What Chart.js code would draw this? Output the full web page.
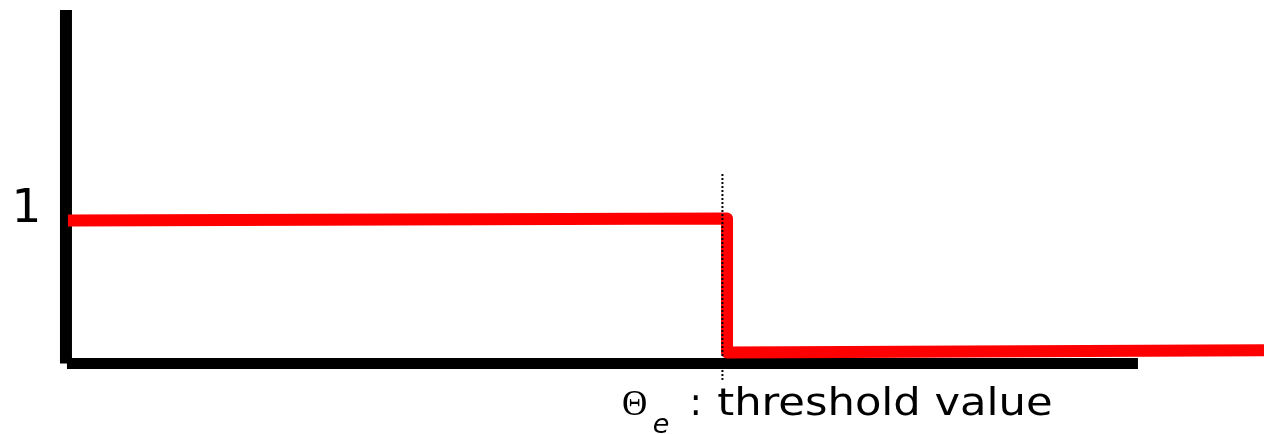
<!DOCTYPE html>
<html>
<head>
<meta charset="utf-8">
<script src="https://cdn.jsdelivr.net/npm/chart.js@4"></script>
<style>
  html, body { margin: 0; padding: 0; background: #ffffff; }
  #wrap { width: 1264px; height: 434px; }
</style>
</head>
<body>
<div id="wrap"><canvas id="c" width="1264" height="434"></canvas></div>
<script>
// ---- data (x in arbitrary units, threshold θe = 10; y: output level) ----
const thresholdX = 10;
const responseX = [0.03, 10.07, 10.07, 18.25];
const responseY = [1.0, 1.014, 0.077, 0.092];
const xAxisX = [0.015, 16.33];
const xAxisY = [0, 0];
const yAxisX = [0, 0];
const yAxisY = [0, 2.472];
const guideY = [1.325, -0.115];
const yTickLabel = "1";
const yTickValue = 1;
const captionSymbol = "\u0398";
const captionSub = "e";
const captionText = "threshold value";

const toPts = (xs, ys) => xs.map((x, i) => ({ x: x, y: ys[i] }));

const textPlugin = {
  id: 'textPlugin',
  afterDatasetsDraw(chart) {
    const ctx = chart.ctx;
    const xs = chart.scales.x, ys = chart.scales.y;
    ctx.save();
    ctx.fillStyle = '#000';
    ctx.textBaseline = 'alphabetic';
    ctx.textAlign = 'left';
    // "1" label
    ctx.font = '47px "DejaVu Sans"';
    ctx.fillText(yTickLabel, xs.getPixelForValue(-0.83), ys.getPixelForValue(yTickValue) + 1);
    // caption
    const base = ys.getPixelForValue(-0.36);
    ctx.font = '35px "Liberation Serif"';
    ctx.fillText(captionSymbol, xs.getPixelForValue(thresholdX - 1.53), base);
    ctx.font = 'italic 27px "DejaVu Sans"';
    ctx.fillText(captionSub, xs.getPixelForValue(thresholdX - 1.06), base + 18);
    ctx.font = '37px "DejaVu Sans"';
    ctx.fillText(':', xs.getPixelForValue(thresholdX - 0.50), base);
    const x0 = xs.getPixelForValue(thresholdX - 0.08);
    const x1 = xs.getPixelForValue(thresholdX + 5.03);
    const w = ctx.measureText(captionText).width;
    ctx.translate(x0, base);
    ctx.scale((x1 - x0) / w, 1);
    ctx.fillText(captionText, 0, 0);
    ctx.restore();
  }
};

new Chart(document.getElementById('c'), {
  type: 'scatter',
  data: {
    datasets: [
      { data: toPts([thresholdX, thresholdX], guideY), showLine: true, borderColor: '#000',
        borderWidth: 2, borderDash: [2, 2], pointRadius: 0, order: 0 },
      { data: toPts(responseX, responseY), showLine: true, borderColor: '#ff0000',
        borderWidth: 12, borderJoinStyle: 'round', borderCapStyle: 'butt', pointRadius: 0, order: 1 },
      { data: toPts(xAxisX, xAxisY), showLine: true, borderColor: '#000',
        borderWidth: 11, pointRadius: 0, order: 2 },
      { data: toPts(yAxisX, yAxisY), showLine: true, borderColor: '#000',
        borderWidth: 12, pointRadius: 0, order: 3 }
    ]
  },
  options: {
    responsive: false,
    animation: false,
    layout: { padding: 0 },
    plugins: { legend: { display: false }, tooltip: { enabled: false }, title: { display: false } },
    scales: {
      x: { type: 'linear', display: false, min: -1.005, max: 18.25 },
      y: { type: 'linear', display: false, min: -0.493, max: 2.542 }
    }
  },
  plugins: [textPlugin]
});
</script>
</body>
</html>
